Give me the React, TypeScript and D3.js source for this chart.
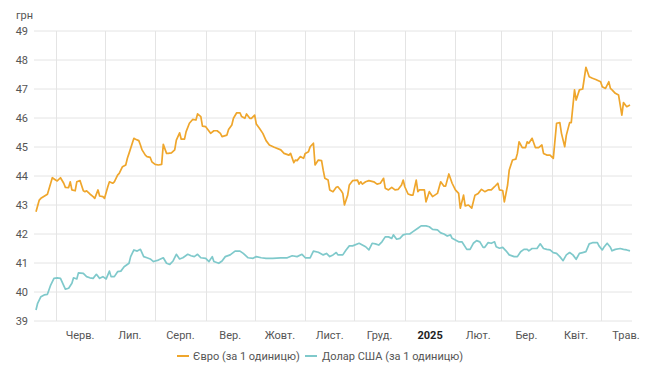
import React from "react";
import * as d3 from "d3";

const yTicks = [39, 40, 41, 42, 43, 44, 45, 46, 47, 48, 49];
const monthLabels = ["Черв.", "Лип.", "Серп.", "Вер.", "Жовт.", "Лист.", "Груд.", "2025", "Лют.", "Бер.", "Квіт.", "Трав."];
const seriesNames = ["Євро (за 1 одиницю)", "Долар США (за 1 одиницю)"];

const euroData: [string, number][] = [
  ["2024-05-20", 42.77], ["2024-05-22", 43.17], ["2024-05-23", 43.23], ["2024-05-27", 43.37], ["2024-05-29", 43.75],
  ["2024-05-30", 43.94], ["2024-06-01", 43.86], ["2024-06-02", 43.83], ["2024-06-04", 43.94], ["2024-06-06", 43.75],
  ["2024-06-07", 43.61], ["2024-06-09", 43.6], ["2024-06-10", 43.8], ["2024-06-11", 43.52], ["2024-06-13", 43.49],
  ["2024-06-14", 43.8], ["2024-06-16", 43.84], ["2024-06-18", 43.49], ["2024-06-19", 43.46], ["2024-06-20", 43.49],
  ["2024-06-22", 43.38], ["2024-06-24", 43.29], ["2024-06-25", 43.23], ["2024-06-27", 43.52], ["2024-06-28", 43.31],
  ["2024-06-30", 43.29], ["2024-07-01", 43.23], ["2024-07-03", 43.63], ["2024-07-04", 43.8], ["2024-07-06", 43.75],
  ["2024-07-07", 43.8], ["2024-07-09", 44.03], ["2024-07-10", 44.09], ["2024-07-12", 44.32], ["2024-07-14", 44.38],
  ["2024-07-15", 44.61], ["2024-07-16", 44.78], ["2024-07-18", 45.13], ["2024-07-19", 45.3], ["2024-07-20", 45.27],
  ["2024-07-22", 45.22], ["2024-07-23", 45.07], ["2024-07-24", 44.9], ["2024-07-26", 44.72], ["2024-07-27", 44.67],
  ["2024-07-29", 44.64], ["2024-07-30", 44.49], ["2024-08-01", 44.4], ["2024-08-03", 44.38], ["2024-08-05", 44.4],
  ["2024-08-06", 45.09], ["2024-08-08", 44.78], ["2024-08-09", 44.78], ["2024-08-11", 44.8], ["2024-08-13", 44.9],
  ["2024-08-14", 45.24], ["2024-08-16", 45.49], ["2024-08-17", 45.27], ["2024-08-19", 45.27], ["2024-08-20", 45.53],
  ["2024-08-22", 45.82], ["2024-08-24", 45.95], ["2024-08-26", 45.93], ["2024-08-27", 46.14], ["2024-08-29", 46.05],
  ["2024-08-30", 45.72], ["2024-09-01", 45.7], ["2024-09-04", 45.47], ["2024-09-06", 45.56], ["2024-09-08", 45.56],
  ["2024-09-10", 45.47], ["2024-09-11", 45.36], ["2024-09-14", 45.41], ["2024-09-15", 45.6], ["2024-09-17", 45.76],
  ["2024-09-18", 45.99], ["2024-09-20", 46.18], ["2024-09-22", 46.18], ["2024-09-23", 46.05], ["2024-09-25", 45.99],
  ["2024-09-26", 46.14], ["2024-09-28", 45.99], ["2024-09-29", 45.99], ["2024-10-01", 46.1], ["2024-10-02", 45.79],
  ["2024-10-04", 45.64], ["2024-10-06", 45.47], ["2024-10-08", 45.22], ["2024-10-10", 45.07], ["2024-10-13", 44.99],
  ["2024-10-17", 44.9], ["2024-10-19", 44.78], ["2024-10-22", 44.72], ["2024-10-23", 44.78], ["2024-10-25", 44.46],
  ["2024-10-26", 44.55], ["2024-10-27", 44.53], ["2024-10-29", 44.67], ["2024-10-30", 44.64], ["2024-10-31", 44.61],
  ["2024-11-01", 44.78], ["2024-11-03", 44.84], ["2024-11-04", 45.01], ["2024-11-06", 45.13], ["2024-11-07", 44.38],
  ["2024-11-09", 44.55], ["2024-11-11", 44.53], ["2024-11-12", 44.2], ["2024-11-13", 43.92], ["2024-11-15", 43.86],
  ["2024-11-16", 43.52], ["2024-11-18", 43.46], ["2024-11-20", 43.61], ["2024-11-21", 43.63], ["2024-11-23", 43.49],
  ["2024-11-24", 43.4], ["2024-11-25", 43.0], ["2024-11-27", 43.34], ["2024-11-28", 43.69], ["2024-11-30", 43.84],
  ["2024-12-03", 43.86], ["2024-12-04", 43.72], ["2024-12-05", 43.8], ["2024-12-06", 43.72], ["2024-12-08", 43.8],
  ["2024-12-10", 43.84], ["2024-12-13", 43.8], ["2024-12-15", 43.72], ["2024-12-17", 43.75], ["2024-12-19", 43.92],
  ["2024-12-20", 43.58], ["2024-12-22", 43.52], ["2024-12-24", 43.61], ["2024-12-26", 43.52], ["2024-12-28", 43.54],
  ["2024-12-30", 43.69], ["2024-12-31", 43.86], ["2025-01-01", 43.63], ["2025-01-03", 43.38], ["2025-01-05", 43.34],
  ["2025-01-06", 43.34], ["2025-01-08", 43.86], ["2025-01-09", 43.46], ["2025-01-10", 43.52], ["2025-01-13", 43.52],
  ["2025-01-14", 43.11], ["2025-01-16", 43.46], ["2025-01-18", 43.29], ["2025-01-21", 43.4], ["2025-01-23", 43.8],
  ["2025-01-25", 43.65], ["2025-01-26", 43.65], ["2025-01-28", 44.07], ["2025-01-30", 43.75], ["2025-02-01", 43.52],
  ["2025-02-03", 43.4], ["2025-02-04", 42.89], ["2025-02-06", 43.34], ["2025-02-07", 42.97], ["2025-02-09", 43.0],
  ["2025-02-11", 42.89], ["2025-02-13", 43.34], ["2025-02-15", 43.4], ["2025-02-17", 43.54], ["2025-02-19", 43.46],
  ["2025-02-21", 43.52], ["2025-02-23", 43.52], ["2025-02-25", 43.63], ["2025-02-27", 43.75], ["2025-02-28", 43.52],
  ["2025-03-02", 43.5], ["2025-03-03", 43.11], ["2025-03-05", 43.69], ["2025-03-06", 44.21], ["2025-03-08", 44.55],
  ["2025-03-10", 44.58], ["2025-03-11", 44.78], ["2025-03-12", 45.18], ["2025-03-14", 44.98], ["2025-03-16", 44.98],
  ["2025-03-17", 45.18], ["2025-03-18", 45.13], ["2025-03-20", 45.3], ["2025-03-22", 44.98], ["2025-03-24", 44.98],
  ["2025-03-26", 45.07], ["2025-03-27", 44.78], ["2025-03-29", 44.72], ["2025-03-31", 44.72], ["2025-04-02", 44.61],
  ["2025-04-04", 45.82], ["2025-04-06", 45.84], ["2025-04-07", 45.47], ["2025-04-09", 45.01], ["2025-04-10", 45.41],
  ["2025-04-12", 45.84], ["2025-04-13", 45.84], ["2025-04-15", 46.97], ["2025-04-16", 46.62], ["2025-04-18", 46.97],
  ["2025-04-20", 47.0], ["2025-04-22", 47.75], ["2025-04-24", 47.42], ["2025-04-26", 47.37], ["2025-04-28", 47.33],
  ["2025-05-01", 47.25], ["2025-05-02", 47.08], ["2025-05-04", 47.02], ["2025-05-06", 47.25], ["2025-05-07", 47.02],
  ["2025-05-08", 46.97], ["2025-05-10", 46.85], ["2025-05-12", 46.79], ["2025-05-14", 46.1], ["2025-05-15", 46.53],
  ["2025-05-17", 46.39], ["2025-05-19", 46.45],
];

const usdData: [string, number][] = [
  ["2024-05-20", 39.38], ["2024-05-21", 39.61], ["2024-05-23", 39.84], ["2024-05-25", 39.9], ["2024-05-27", 39.92],
  ["2024-05-29", 40.24], ["2024-05-31", 40.47], ["2024-06-02", 40.49], ["2024-06-04", 40.47], ["2024-06-06", 40.22],
  ["2024-06-07", 40.1], ["2024-06-09", 40.13], ["2024-06-11", 40.3], ["2024-06-12", 40.49], ["2024-06-14", 40.45],
  ["2024-06-15", 40.66], ["2024-06-18", 40.64], ["2024-06-20", 40.53], ["2024-06-22", 40.49], ["2024-06-24", 40.47],
  ["2024-06-26", 40.61], ["2024-06-28", 40.47], ["2024-06-30", 40.53], ["2024-07-02", 40.45], ["2024-07-04", 40.72],
  ["2024-07-05", 40.53], ["2024-07-07", 40.53], ["2024-07-09", 40.7], ["2024-07-11", 40.72], ["2024-07-13", 40.87],
  ["2024-07-16", 40.99], ["2024-07-17", 41.22], ["2024-07-19", 41.45], ["2024-07-21", 41.41], ["2024-07-23", 41.47],
  ["2024-07-25", 41.22], ["2024-07-27", 41.18], ["2024-07-29", 41.14], ["2024-07-31", 41.05], ["2024-08-03", 41.1],
  ["2024-08-06", 41.18], ["2024-08-08", 40.99], ["2024-08-10", 40.95], ["2024-08-12", 41.07], ["2024-08-14", 41.3],
  ["2024-08-16", 41.14], ["2024-08-18", 41.18], ["2024-08-21", 41.3], ["2024-08-23", 41.25], ["2024-08-25", 41.22],
  ["2024-08-27", 41.3], ["2024-08-29", 41.18], ["2024-09-01", 41.16], ["2024-09-03", 41.05], ["2024-09-05", 41.22],
  ["2024-09-06", 41.05], ["2024-09-09", 40.99], ["2024-09-11", 41.07], ["2024-09-13", 41.22], ["2024-09-16", 41.28],
  ["2024-09-19", 41.41], ["2024-09-22", 41.41], ["2024-09-24", 41.33], ["2024-09-27", 41.18], ["2024-09-30", 41.16],
  ["2024-10-02", 41.22], ["2024-10-05", 41.18], ["2024-10-08", 41.16], ["2024-10-12", 41.16], ["2024-10-17", 41.18],
  ["2024-10-21", 41.18], ["2024-10-24", 41.25], ["2024-10-27", 41.22], ["2024-10-30", 41.3], ["2024-11-01", 41.18],
  ["2024-11-04", 41.18], ["2024-11-06", 41.41], ["2024-11-09", 41.37], ["2024-11-12", 41.28], ["2024-11-14", 41.33],
  ["2024-11-16", 41.22], ["2024-11-18", 41.28], ["2024-11-20", 41.36], ["2024-11-21", 41.28], ["2024-11-24", 41.28],
  ["2024-11-26", 41.45], ["2024-11-28", 41.59], ["2024-11-30", 41.59], ["2024-12-04", 41.68], ["2024-12-06", 41.62],
  ["2024-12-08", 41.56], ["2024-12-10", 41.45], ["2024-12-12", 41.68], ["2024-12-14", 41.66], ["2024-12-16", 41.62],
  ["2024-12-18", 41.73], ["2024-12-20", 41.9], ["2024-12-22", 41.9], ["2024-12-24", 41.85], ["2024-12-25", 41.97],
  ["2024-12-27", 41.82], ["2024-12-29", 41.85], ["2024-12-31", 41.97], ["2025-01-02", 42.0], ["2025-01-04", 42.0],
  ["2025-01-06", 42.08], ["2025-01-09", 42.2], ["2025-01-11", 42.28], ["2025-01-14", 42.28], ["2025-01-16", 42.25],
  ["2025-01-18", 42.16], ["2025-01-21", 42.14], ["2025-01-23", 42.04], ["2025-01-25", 42.0], ["2025-01-27", 41.93],
  ["2025-01-29", 41.97], ["2025-01-30", 41.85], ["2025-02-01", 41.79], ["2025-02-03", 41.73], ["2025-02-05", 41.73],
  ["2025-02-08", 41.47], ["2025-02-10", 41.47], ["2025-02-12", 41.68], ["2025-02-14", 41.77], ["2025-02-16", 41.73],
  ["2025-02-18", 41.54], ["2025-02-19", 41.54], ["2025-02-21", 41.7], ["2025-02-23", 41.68], ["2025-02-25", 41.73],
  ["2025-02-26", 41.56], ["2025-02-28", 41.51], ["2025-03-02", 41.54], ["2025-03-04", 41.42], ["2025-03-06", 41.28],
  ["2025-03-09", 41.22], ["2025-03-11", 41.22], ["2025-03-13", 41.39], ["2025-03-15", 41.47], ["2025-03-17", 41.47],
  ["2025-03-18", 41.42], ["2025-03-20", 41.5], ["2025-03-23", 41.5], ["2025-03-25", 41.66], ["2025-03-27", 41.5],
  ["2025-03-29", 41.47], ["2025-03-31", 41.45], ["2025-04-02", 41.36], ["2025-04-04", 41.33], ["2025-04-06", 41.22],
  ["2025-04-08", 41.08], ["2025-04-10", 41.28], ["2025-04-12", 41.36], ["2025-04-14", 41.28], ["2025-04-16", 41.13],
  ["2025-04-18", 41.33], ["2025-04-20", 41.36], ["2025-04-22", 41.39], ["2025-04-24", 41.66], ["2025-04-26", 41.7],
  ["2025-04-29", 41.7], ["2025-04-30", 41.59], ["2025-05-02", 41.45], ["2025-05-03", 41.54], ["2025-05-05", 41.68],
  ["2025-05-07", 41.54], ["2025-05-08", 41.42], ["2025-05-10", 41.47], ["2025-05-13", 41.5], ["2025-05-15", 41.47],
  ["2025-05-17", 41.45], ["2025-05-19", 41.42],
];

const EURO_COLOR = "#EFA62C";
const USD_COLOR = "#7FC9CB";
const FONT = "Roboto, 'Noto Sans', sans-serif";

export default function App() {
  const W = 650, H = 384;
  const parse = d3.timeParse("%Y-%m-%d");
  const start = parse("2024-05-20")!;
  const end = parse("2025-05-19")!;
  const x = d3.scaleTime().domain([start, end]).range([36, 630]);
  const y = d3.scaleLinear().domain([39, 49]).range([321, 31]);

  const gridLeft = 34, gridRight = 632;
  const months = d3.timeMonth.range(d3.timeMonth.ceil(start), end);
  const labelMonths = d3.timeMonth.range(d3.timeMonth.ceil(start), d3.timeMonth.offset(end, 1));

  const line = d3
    .line<[string, number]>()
    .x((d) => x(parse(d[0])!))
    .y((d) => y(d[1]));

  return (
    <svg width={W} height={H} style={{ position: "absolute", left: 0, top: 0, background: "#fff" }} fontFamily={FONT}>
      <rect width={W} height={H} fill="#fff" />
      {yTicks.map((t) => (
        <line key={"h" + t} x1={gridLeft} x2={gridRight} y1={y(t)} y2={y(t)} stroke="#e4e4e4" strokeWidth={1} />
      ))}
      {months.map((m, i) => (
        <line key={"v" + i} x1={Math.round(x(m)) + 0.5} x2={Math.round(x(m)) + 0.5} y1={y(49)} y2={y(39)} stroke="#e4e4e4" strokeWidth={1} />
      ))}
      {yTicks.map((t) => (
        <text key={"yl" + t} x={28} y={y(t) + 4} textAnchor="end" fontSize={11} fill="#555">
          {t}
        </text>
      ))}
      <text x={16} y={19} fontSize={11} fill="#555">грн</text>
      {labelMonths.map((m, i) => {
        const next = d3.timeMonth.offset(m, 1);
        const mid = new Date((m.getTime() + next.getTime()) / 2);
        const lbl = monthLabels[i];
        if (!lbl) return null;
        const isYear = lbl === "2025";
        return (
          <text key={"xl" + i} x={x(mid)} y={339} textAnchor="middle" fontSize={11}
            fill={isYear ? "#222" : "#555"} fontWeight={isYear ? "bold" : "normal"}>
            {lbl}
          </text>
        );
      })}
      <path d={line(usdData) || ""} fill="none" stroke={USD_COLOR} strokeWidth={1.7} strokeLinejoin="round" />
      <path d={line(euroData) || ""} fill="none" stroke={EURO_COLOR} strokeWidth={1.7} strokeLinejoin="round" />
      <g>
        <line x1={177} x2={189} y1={356} y2={356} stroke={EURO_COLOR} strokeWidth={2} />
        <text x={193} y={360} fontSize={11} fill="#555">{seriesNames[0]}</text>
        <line x1={305} x2={317} y1={356} y2={356} stroke={USD_COLOR} strokeWidth={2} />
        <text x={322} y={360} fontSize={11} fill="#555">{seriesNames[1]}</text>
      </g>
    </svg>
  );
}
